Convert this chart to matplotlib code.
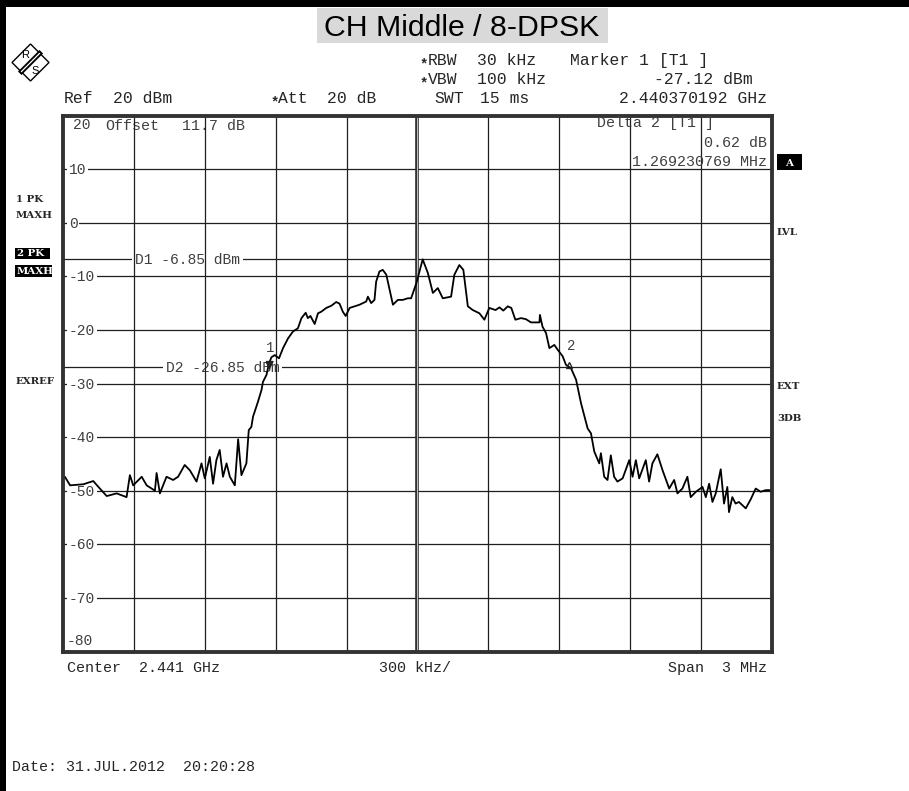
import matplotlib
matplotlib.use("Agg")
import matplotlib.pyplot as plt
from matplotlib.patches import Rectangle, Polygon
from matplotlib.lines import Line2D

# ---------------- data ----------------
title = "CH Middle / 8-DPSK"
center_ghz = 2.441
span_mhz = 3.0
ref_level = 20
y_levels = [20, 10, 0, -10, -20, -30, -40, -50, -60, -70, -80]

# trace: frequency offset from centre (MHz) and level (dBm)
freq_offset_mhz = [
    -1.500, -1.492, -1.470, -1.414, -1.372, -1.344, -1.315, -1.273, -1.231, -1.217,
    -1.203, -1.167, -1.146, -1.111, -1.104, -1.090, -1.062, -1.034, -1.013, -0.985,
    -0.963, -0.935, -0.914, -0.900, -0.879, -0.865, -0.851, -0.837, -0.823, -0.808,
    -0.794, -0.773, -0.759, -0.745, -0.724,
    -0.714, -0.703, -0.696, -0.675, -0.660, -0.654, -0.639, -0.628, -0.618, -0.604,
    -0.586, -0.569, -0.548, -0.527, -0.506, -0.491, -0.473, -0.464, -0.453, -0.435,
    -0.421, -0.407, -0.386, -0.365, -0.344, -0.330, -0.316, -0.304, -0.287, -0.245,
    -0.217, -0.210, -0.196, -0.182, -0.175, -0.161, -0.147, -0.132, -0.118, -0.104,
    -0.083, -0.062, -0.041, -0.027, -0.005, 0.022, 0.044, 0.065, 0.086, 0.107,
    0.142, 0.156, 0.177, 0.194, 0.213, 0.234, 0.262, 0.283, 0.304, 0.330,
    0.347, 0.363, 0.382, 0.397, 0.414, 0.438, 0.459, 0.480, 0.516, 0.518,
    0.529, 0.544, 0.558, 0.579, 0.593, 0.614, 0.628, 0.650, 0.671, 0.692,
    0.720, 0.734,
    0.748, 0.769, 0.776, 0.790, 0.804, 0.818, 0.832, 0.846, 0.868, 0.896,
    0.910, 0.924, 0.938, 0.966, 0.980, 0.994, 1.015, 1.037, 1.065, 1.086,
    1.100, 1.121, 1.142, 1.156, 1.178, 1.206, 1.220, 1.234, 1.248, 1.262,
    1.283, 1.297, 1.311, 1.318, 1.332, 1.346, 1.360, 1.389, 1.410, 1.431,
    1.452, 1.473, 1.494, 1.500,
]
level_dbm = [
    -47.6, -47.4, -49.0, -48.8, -48.2, -49.6, -51.0, -50.5, -51.2, -47.1,
    -49.0, -47.4, -49.0, -50.0, -46.7, -50.5, -47.4, -48.0, -47.4, -45.2,
    -46.2, -48.3, -44.9, -47.7, -43.7, -48.7, -44.3, -42.4, -47.4, -44.9,
    -47.4, -49.0, -40.4, -47.1, -44.9,
    -38.7, -38.1, -36.2, -33.4, -31.2, -29.7, -28.4, -26.2, -25.1, -24.7,
    -25.3, -23.4, -21.6, -20.3, -19.7, -17.8, -16.8, -17.8, -17.4, -18.9,
    -16.9, -16.6, -15.9, -15.5, -14.8, -15.1, -16.6, -17.4, -15.9, -15.3,
    -14.7, -13.8, -15.0, -14.4, -11.0, -9.1, -8.8, -9.7, -12.5, -15.3,
    -14.4, -14.4, -14.1, -14.1, -11.3, -6.85, -9.4, -13.1, -12.2, -14.1,
    -13.8, -9.7, -7.9, -8.8, -15.6, -16.3, -16.9, -18.1, -15.9, -16.3,
    -15.8, -16.4, -15.6, -15.9, -18.1, -17.8, -18.0, -18.6, -18.6, -17.2,
    -19.4, -20.6, -23.4, -22.8, -23.7, -24.9, -26.5, -27.2, -29.3, -33.7,
    -38.4, -39.3,
    -42.7, -44.9, -43.0, -47.4, -48.0, -43.4, -47.4, -48.3, -47.7, -44.3,
    -47.4, -44.3, -47.7, -44.3, -48.3, -44.9, -43.2, -46.2, -49.6, -48.0,
    -50.5, -49.6, -47.4, -51.2, -50.2, -49.3, -51.2, -48.7, -52.1, -50.5,
    -46.0, -52.4, -49.3, -54.0, -51.2, -52.4, -52.1, -53.3, -51.6, -49.6,
    -50.2, -49.9, -49.9, -49.9,
]

d1_level = -6.85
d2_level = -26.85
marker1_ghz = 2.440370192
marker1_dbm = -27.12
delta2_db = 0.62
delta2_mhz = 1.269230769

# ---------------- layout helpers ----------------
W, H = 909, 791
fig = plt.figure(figsize=(W / 100, H / 100), dpi=100)
fig.patch.set_facecolor("white")
MONO = "Liberation Mono"
BOLD = "DejaVu Serif"
TXT = "#262626"
GREY = "#404040"


def fp(x, y):
    return (x / W, 1 - y / H)


def ftext(x, y, s, ha="left", size=10.8, color=TXT, family=MONO, **kw):
    fig.text(x / W, 1 - y / H, s, ha=ha, va="baseline", fontsize=size,
             family=family, color=color, **kw)


# black frame bars of the screenshot
fig.add_artist(Rectangle((0, 1 - 7 / H), 1, 7 / H, transform=fig.transFigure,
                         facecolor="black", edgecolor="none"))
fig.add_artist(Rectangle((0, 0), 6 / W, 1, transform=fig.transFigure,
                         facecolor="black", edgecolor="none"))

# title
fig.add_artist(Rectangle(fp(317, 43), 291 / W, 35 / H, transform=fig.transFigure,
                         facecolor="#d9d9d9", edgecolor="none"))
fig.text(462 / W, 1 - 36.5 / H, title, ha="center", va="baseline",
         fontsize=21.8, family="Liberation Sans", color="black")

# R&S logo
fig.add_artist(Polygon([fp(12, 62.5), fp(30.5, 44), fp(49, 62.5), fp(30.5, 81)],
                       closed=True, fill=False, edgecolor="black", lw=1.0,
                       transform=fig.transFigure))
a, b = fp(21.5, 71.5), fp(39.5, 53.5)
fig.add_artist(Line2D([a[0], b[0]], [a[1], b[1]], lw=3.6, color="black",
                      transform=fig.transFigure))
fig.add_artist(Line2D([a[0], b[0]], [a[1], b[1]], lw=0.9, color="white",
                      transform=fig.transFigure))
fig.text(25 / W, 1 - 55.5 / H, "R", ha="center", va="center", fontsize=8,
         family="Liberation Sans")
fig.text(35.5 / W, 1 - 70.5 / H, "S", ha="center", va="center", fontsize=8,
         family="Liberation Sans")

# header
HS = 11.8
ftext(420, 68, "*", size=10, fontweight="bold")
ftext(428, 65, "RBW", size=HS)
ftext(477, 65, "30 kHz", size=HS)
ftext(420, 87.5, "*", size=10, fontweight="bold")
ftext(428, 84.5, "VBW", size=HS)
ftext(477, 84.5, "100 kHz", size=HS)
ftext(570, 65, "Marker 1 [T1 ]", size=HS)
ftext(753, 84.5, f"{marker1_dbm:.2f} dBm", ha="right", size=HS)
ftext(64, 103, "Ref", size=HS)
ftext(113, 103, f"{ref_level} dBm", size=HS)
ftext(271, 106, "*", size=10, fontweight="bold")
ftext(278, 103, "Att", size=HS)
ftext(327, 103, "20 dB", size=HS)
ftext(434, 103, "SWT", size=HS)
ftext(480, 103, "15 ms", size=HS)
ftext(767, 103, f"{marker1_ghz:.9f} GHz", ha="right", size=HS)

# footer
ftext(67, 672, f"Center  {center_ghz:.3f} GHz")
ftext(379, 672, "300 kHz/")
ftext(767, 672, f"Span  {span_mhz:g} MHz", ha="right")
ftext(12, 771, "Date: 31.JUL.2012  20:20:28")

# side labels
LS = 7.4
ftext(16, 202, "1 PK", size=LS, family=BOLD, fontweight="bold")
ftext(16, 218.5, "MAXH", size=LS, family=BOLD, fontweight="bold")
fig.add_artist(Rectangle(fp(15, 259), 35 / W, 11 / H, transform=fig.transFigure,
                         facecolor="black", edgecolor="none"))
fig.add_artist(Rectangle(fp(15, 277), 37 / W, 12 / H, transform=fig.transFigure,
                         facecolor="black", edgecolor="none"))
ftext(17, 256.5, "2 PK", size=LS, family=BOLD, fontweight="bold", color="white")
ftext(16.5, 274.5, "MAXH", size=LS, family=BOLD, fontweight="bold", color="white")
ftext(16, 384, "EXREF", size=LS, family=BOLD, fontweight="bold")

fig.add_artist(Rectangle(fp(777, 170), 25 / W, 16 / H, transform=fig.transFigure,
                         facecolor="black", edgecolor="none"))
ftext(789.5, 166, "A", ha="center", size=LS, family=BOLD, fontweight="bold",
      color="white")
ftext(777, 235, "LVL", size=LS, family=BOLD, fontweight="bold")
ftext(777, 389, "EXT", size=LS, family=BOLD, fontweight="bold")
ftext(777, 421, "3DB", size=LS, family=BOLD, fontweight="bold")

# ---------------- the screen ----------------
ax = fig.add_axes([63 / W, 1 - 651.5 / H, (772 - 63) / W, (651.5 - 115.5) / H])
half = span_mhz / 2
ax.set_xlim(-half, half)
ax.set_ylim(y_levels[-1], y_levels[0])
ax.set_xticks([])
ax.set_yticks([])
for s in ax.spines.values():
    s.set_linewidth(2.8)
    s.set_color("#333333")
    s.set_zorder(6)

GRID = "#1f1f1f"
ytr = ax.get_yaxis_transform()
for v in y_levels[1:-1]:
    ax.axhline(v, color=GRID, lw=0.9, zorder=1)
    ax.annotate(str(v), xy=(0.008, v), xycoords=ytr, xytext=(0, -3.6),
                textcoords="offset points", ha="left", va="baseline",
                fontsize=10.5, family=MONO, color=GREY, zorder=2,
                bbox=dict(boxstyle="square,pad=0.12", facecolor="white",
                          edgecolor="none"))
ax.annotate(str(y_levels[0]), xy=(0.014, y_levels[0]), xycoords=ytr,
            xytext=(0, -10), textcoords="offset points", ha="left",
            va="baseline", fontsize=10.5, family=MONO, color=GREY)
ax.annotate(str(y_levels[-1]), xy=(0.005, y_levels[-1]), xycoords=ytr,
            xytext=(0, 4.6), textcoords="offset points", ha="left",
            va="baseline", fontsize=10.5, family=MONO, color=GREY)

n_div = 10
for i in range(1, n_div):
    x = -half + span_mhz * i / n_div
    if i == n_div // 2:
        ax.axvline(x, color="#2a2a2a", lw=2.6, zorder=3)
        ax.axvline(x, color="#bdbdbd", lw=0.8, zorder=3)
    else:
        ax.axvline(x, color=GRID, lw=0.9, zorder=3)

# display lines D1 / D2
for name, lvl, xl in (("D1", d1_level, 0.101), ("D2", d2_level, 0.145)):
    ax.axhline(lvl, color=GRID, lw=0.9, zorder=1)
    ax.annotate(f"{name} {lvl:.2f} dBm", xy=(xl, lvl),
                xycoords=ytr, xytext=(0, -3.6), textcoords="offset points",
                ha="left", va="baseline", fontsize=10.5, family=MONO,
                color=GREY, zorder=2,
                bbox=dict(boxstyle="square,pad=0.2", facecolor="white",
                          edgecolor="none"))

# in-screen info text
axtr = ax.transAxes
ax.text(0.059, 0.973, "Offset", transform=axtr, ha="left", va="baseline",
        fontsize=10.8, family=MONO, color=GREY, zorder=2)
ax.text(0.168, 0.973, "11.7 dB", transform=axtr, ha="left", va="baseline",
        fontsize=10.8, family=MONO, color=GREY, zorder=2)
ftext(597, 127.5, "Delta 2 [T1 ]", color=GREY)
ftext(767, 147, f"{delta2_db:.2f} dB", ha="right", color=GREY)
ftext(767, 166.5, f"{delta2_mhz:.9f} MHz", ha="right", color=GREY)

# trace
ax.plot(freq_offset_mhz, level_dbm, color="black", lw=1.3, zorder=4,
        solid_joinstyle="round")

# markers
m1x = (marker1_ghz - center_ghz) * 1000
m2x = m1x + delta2_mhz
m2y = marker1_dbm + delta2_db
down_tri = [(-1.0, 2.0), (1.0, 2.0), (0.0, 0.0), (-1.0, 2.0)]
ax.plot([m1x], [marker1_dbm], linestyle="none", marker=down_tri, markersize=10,
        color="#222222", zorder=5)
ax.annotate("1", xy=(m1x, marker1_dbm), xytext=(1, 11.5),
            textcoords="offset points", ha="center", va="baseline", fontsize=10,
            family=MONO, color=GREY, zorder=5)
ax.plot([m2x], [m2y], linestyle="none", marker="^", markersize=5,
        markerfacecolor="none", markeredgecolor="#222222", markeredgewidth=1.0,
        zorder=5)
ax.annotate("2", xy=(m2x, m2y), xytext=(2, 10.5), textcoords="offset points",
            ha="center", va="baseline", fontsize=10, family=MONO,
            color=GREY, zorder=5)

fig.savefig("out.png", dpi=100)
